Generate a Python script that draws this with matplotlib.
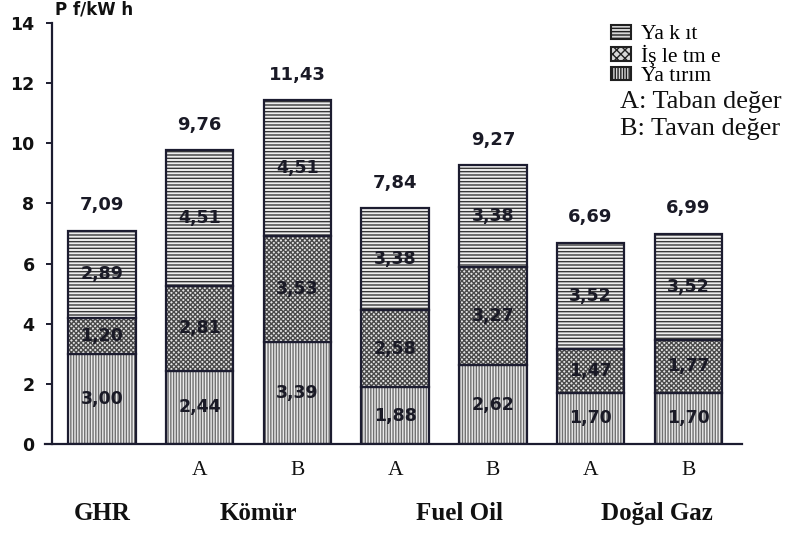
import numpy as np
import matplotlib.pyplot as plt
from matplotlib.patches import Patch

# Maliyet bileşenleri (Pf/kWh)
kategoriler = ['', 'A', 'B', 'A', 'B', 'A', 'B']
gruplar = ['GHR', 'Kömür', 'Fuel Oil', 'Doğal Gaz']
grup_konum = [0.0, 1.60, 3.66, 5.68]

yatirim = [3.00, 2.44, 3.39, 1.88, 2.62, 1.70, 1.70]
isletme = [1.20, 2.81, 3.53, 2.58, 3.27, 1.47, 1.77]
yakit = [2.89, 4.51, 4.51, 3.38, 3.38, 3.52, 3.52]
toplam = [7.09, 9.76, 11.43, 7.84, 9.27, 6.69, 6.99]

etiket_yakit = 'Ya k ıt'
etiket_isletme = 'İş le tm e'
etiket_yatirim = 'Ya tırım'

koyu = '#1c1c30'
serif = 'Liberation Serif'

plt.rcParams['font.family'] = 'DejaVu Sans'
plt.rcParams['font.weight'] = 'bold'
plt.rcParams['hatch.linewidth'] = 1.0

fig = plt.figure(figsize=(7.87, 5.35), dpi=100)
ax = fig.add_axes([0.0572, 0.1701, 0.8856, 0.787])

x = np.arange(len(kategoriler))
genislik = 0.69

# (değerler, zemin rengi, tarama rengi, desen)
katmanlar = [
    (yatirim, '#ececec', '#707070', '||||||'),
    (isletme, '#e4e4e4', '#4a4a4a', 'xxxxxxx'),
    (yakit, '#eeeeee', '#383838', '-----'),
]

alt = np.zeros(len(x))
for degerler, zemin, cizgi, desen in katmanlar:
    degerler = np.array(degerler)
    ax.bar(x, degerler, genislik, bottom=alt, color=zemin, edgecolor=cizgi,
           hatch=desen, linewidth=0)
    ax.bar(x, degerler, genislik, bottom=alt, fill=False, edgecolor=koyu,
           linewidth=1.6)
    for xi, b, d in zip(x, alt, degerler):
        ax.text(xi, b + d / 2, f'{d:.2f}'.replace('.', ','), ha='center',
                va='center', fontsize=12.5, fontweight='bold', color='#1a1a26')
    alt = alt + degerler

# Toplam değerler çubukların üstünde
for xi, t in zip(x, toplam):
    ax.text(xi, t + 0.55, f'{t:.2f}'.replace('.', ','), ha='center',
            va='bottom', fontsize=13, fontweight='bold', color='#1a1a26')

ax.set_xlim(-0.583, 6.55)
ax.set_ylim(0, 14)
ax.set_yticks(np.arange(0, 15, 2))
ax.tick_params(axis='y', length=4.5, width=1.4, color=koyu, pad=8,
               labelsize=12.5, labelcolor='#111111')
ax.set_xticks([])

for s in ['top', 'right']:
    ax.spines[s].set_visible(False)
ax.spines['left'].set_position(('data', -0.512))
ax.spines['left'].set_color(koyu)
ax.spines['left'].set_linewidth(1.6)
ax.spines['bottom'].set_color(koyu)
ax.spines['bottom'].set_linewidth(1.6)

# A / B etiketleri ve grup adları
for xi, k in zip(x, kategoriler):
    ax.text(xi, -0.062, k, transform=ax.get_xaxis_transform(), ha='center',
            va='center', fontsize=15.5, family=serif, fontweight='normal',
            color='#111111')
for gx, g in zip(grup_konum, gruplar):
    ax.text(gx, -0.164, g, transform=ax.get_xaxis_transform(), ha='center',
            va='center', fontsize=18, family=serif, fontweight='bold',
            color='#111111')

fig.text(55 / 787, 1 - 10 / 535, 'P f/kW h', ha='left', va='center',
         fontsize=12, fontweight='bold', color='#111111')

tutamaclar = [
    Patch(facecolor='#d8d8d8', edgecolor='#202020', hatch='-----',
          linewidth=1.5, label=etiket_yakit),
    Patch(facecolor='#d8d8d8', edgecolor='#202020', hatch='xxxx',
          linewidth=1.5, label=etiket_isletme),
    Patch(facecolor='#d8d8d8', edgecolor='#202020', hatch='||||||',
          linewidth=1.5, label=etiket_yatirim),
]
fig.legend(handles=tutamaclar, loc='upper left',
           bbox_to_anchor=(611 / 787, 1 - 25 / 535), frameon=False,
           prop={'family': serif, 'size': 15.5, 'weight': 'normal'},
           handlelength=0.95, handleheight=0.6, labelspacing=0.0,
           handletextpad=0.45, borderaxespad=0, borderpad=0)

fig.text(620 / 787, 1 - 102 / 535, 'A: Taban değer', ha='left', va='center',
         fontsize=19, family=serif, fontweight='normal', color='#111111')
fig.text(620 / 787, 1 - 129 / 535, 'B: Tavan değer', ha='left', va='center',
         fontsize=19, family=serif, fontweight='normal', color='#111111')

fig.savefig('out.png', dpi=100)
